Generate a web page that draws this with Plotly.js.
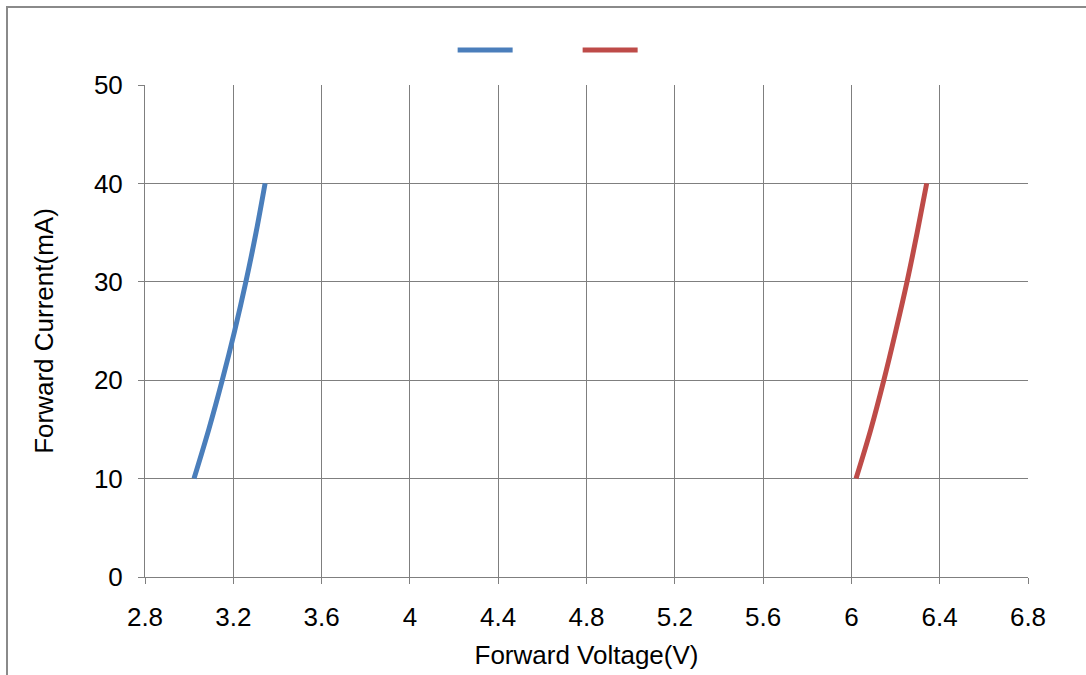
<!DOCTYPE html>
<html>
<head>
<meta charset="utf-8">
<script src="https://cdn.plot.ly/plotly-3.0.1.min.js"></script>
<style>
html,body{margin:0;padding:0;background:#fff;overflow:hidden;}
#chart{width:1086px;height:675px;position:absolute;left:0;top:0;}
#frame{position:absolute;left:6px;top:6px;width:1200px;height:800px;border:2px solid #8a8a8a;pointer-events:none;}
</style>
</head>
<body>
<div id="chart"></div>
<div id="frame"></div>
<script>
var currentMA = [10, 15, 20, 25, 30, 35, 40];
var voltageA = [3.022, 3.089, 3.150, 3.206, 3.257, 3.303, 3.344];
var voltageB = [6.021, 6.088, 6.147, 6.201, 6.252, 6.298, 6.341];
var xTicks = [2.8, 3.2, 3.6, 4, 4.4, 4.8, 5.2, 5.6, 6, 6.4, 6.8];
var yTicks = [0, 10, 20, 30, 40, 50];

var font = {family: 'Liberation Sans, Arial, sans-serif', size: 26, color: '#000'};

var traces = [
  {x: voltageA, y: currentMA, mode: 'lines', name: ' ', line: {color: '#4A7EBB', width: 5, shape: 'spline'}},
  {x: voltageB, y: currentMA, mode: 'lines', name: ' ', line: {color: '#BE4B48', width: 5, shape: 'spline'}}
];

var layout = {
  width: 1086, height: 675,
  margin: {l: 145, r: 58, t: 85, b: 98},
  paper_bgcolor: '#fff', plot_bgcolor: '#fff',
  font: font,
  showlegend: true,
  legend: {orientation: 'h', x: 0.3484, xanchor: 'left', y: 1.071, yanchor: 'middle',
           itemwidth: 55, entrywidth: 55, entrywidthmode: 'pixels', font: font},
  xaxis: {
    range: [2.8, 6.8], tickvals: xTicks, ticktext: xTicks.map(String),
    showgrid: true, gridcolor: '#7f7f7f', gridwidth: 1,
    showline: true, linecolor: '#7f7f7f', linewidth: 1,
    ticks: 'outside', ticklen: 6, tickcolor: '#7f7f7f',
    zeroline: false, tickfont: font, ticklabelstandoff: 11,
    title: {text: 'Forward Voltage(V)', font: font, standoff: 14}
  },
  yaxis: {
    range: [0, 50], tickvals: yTicks,
    showgrid: true, gridcolor: '#7f7f7f', gridwidth: 1,
    showline: true, linecolor: '#7f7f7f', linewidth: 1,
    ticks: 'outside', ticklen: 6, tickcolor: '#7f7f7f',
    zeroline: false, tickfont: font, ticklabelstandoff: 10,
    title: {text: 'Forward Current(mA)', font: font, standoff: 32}
  }
};

Plotly.newPlot('chart', traces, layout, {displayModeBar: false, staticPlot: true});
</script>
</body>
</html>
